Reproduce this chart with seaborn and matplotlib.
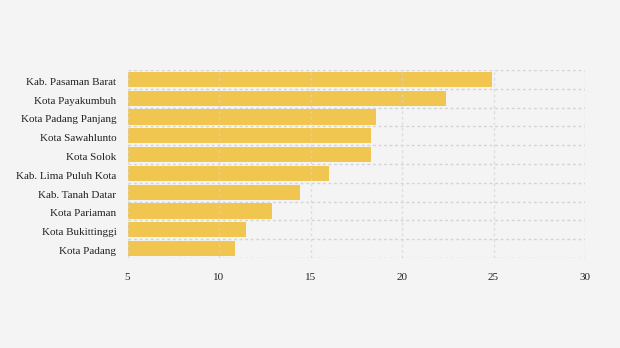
import matplotlib
matplotlib.use("Agg")
import matplotlib.pyplot as plt
import matplotlib.transforms as mtrans
import seaborn as sns
import pandas as pd
import numpy as np

categories = ["Kab. Pasaman Barat", "Kota Payakumbuh", "Kota Padang Panjang",
              "Kota Sawahlunto", "Kota Solok", "Kab. Lima Puluh Kota",
              "Kab. Tanah Datar", "Kota Pariaman", "Kota Bukittinggi", "Kota Padang"]
values = [24.9, 22.4, 18.6, 18.3, 18.3, 16.0, 14.4, 12.9, 11.5, 10.9]
xticks = [5, 10, 15, 20, 25, 30]

bg = "#f4f4f4"
sns.set_theme(style="white")
plt.rcParams["font.family"] = ["Liberation Serif", "DejaVu Serif"]

df = pd.DataFrame({"cat": categories, "val": values})

fig = plt.figure(figsize=(6.2, 3.48), dpi=100, facecolor=bg)
ax = fig.add_axes([127.5/620, 1-258/348, (585-127.5)/620, (258-70)/348])
ax.set_facecolor(bg)

sns.barplot(data=df, x="val", y="cat", orient="h", color="#f0c550",
            saturation=1, width=0.8, ax=ax, zorder=2, linewidth=0)

ax.set_xlim(5, 30)
ax.set_ylim(len(categories)-0.5, -0.5)
ax.set_xticks(xticks)
ax.set_xticklabels([str(t) for t in xticks], fontsize=8, color="#222222")
ax.tick_params(axis="x", length=0, pad=11)
ax.tick_params(axis="y", length=4, color="#dddddd", labelsize=8, labelcolor="#222222", pad=4)
offset = mtrans.ScaledTranslation(0, -2/100, fig.dpi_scale_trans)
for lbl in ax.get_yticklabels():
    lbl.set_transform(lbl.get_transform() + offset)
ax.set_xlabel("")
ax.set_ylabel("")

for s in ax.spines.values():
    s.set_visible(False)

gcol = "#d4d4d4"
for xv in xticks:
    ax.axvline(xv, color=gcol, linestyle=(0, (2, 2)), linewidth=1, zorder=3, alpha=0.7)
for yv in np.arange(len(categories)+1) - 0.5:
    ax.axhline(yv, color=gcol, linestyle=(0, (2, 2)), linewidth=1, zorder=1)

fig.savefig("out.png", dpi=100, facecolor=bg)
